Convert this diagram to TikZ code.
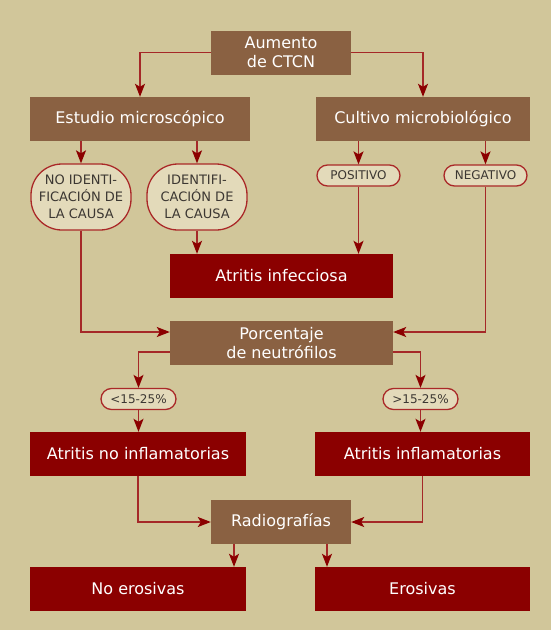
\documentclass[tikz,border=0pt]{standalone}
\usepackage{fontspec}
\setmainfont{DejaVu Sans}
\usetikzlibrary{arrows.meta,positioning,shapes.misc}
\definecolor{bg}{RGB}{209,198,154}
\definecolor{brownbox}{RGB}{138,97,66}
\definecolor{redbox}{RGB}{139,0,0}
\definecolor{oval}{RGB}{227,218,186}
\definecolor{ovalline}{RGB}{170,40,40}
\definecolor{conn}{RGB}{165,40,40}
\definecolor{ovaltext}{RGB}{60,55,50}
\tikzset{
  base/.style={inner sep=0pt, text=white, font=\fontsize{16}{19}\selectfont, align=center},
  brownb/.style={base, fill=brownbox, minimum height=44pt},
  redb/.style={base, fill=redbox, minimum height=44pt},
  ovalb/.style={rectangle, rounded corners=31pt, draw=ovalline, line width=1.3pt, fill=oval, text=ovaltext, inner sep=0pt,
     minimum width=100pt, minimum height=66pt, align=center, font=\fontsize{13}{17}\selectfont},
  pill/.style={rounded rectangle, draw=ovalline, line width=1.3pt, fill=oval, text=ovaltext, inner sep=0pt,
     minimum height=21pt, font=\fontsize{12}{14}\selectfont},
  conn/.style={draw=conn, line width=1.4pt, -{Stealth[length=13pt,width=10pt,inset=3pt,color=redbox]}},
}
\begin{document}
\begin{tikzpicture}[x=1pt,y=-1pt]
\fill[bg] (0,0) rectangle (551,630);
\useasboundingbox (0,0) rectangle (551,630);
\node[brownb, minimum width=140pt] (aum) at (281,52.5) {Aumento\\de CTCN};
\node[brownb, minimum width=220pt] (est) at (140,119) {Estudio microscópico};
\node[brownb, minimum width=214pt] (cul) at (423,119) {Cultivo microbiológico};
\node[ovalb] (noid) at (81,197) {NO IDENTI-\\FICACIÓN DE\\LA CAUSA};
\node[ovalb] (id) at (197,197) {IDENTIFI-\\CACIÓN DE\\LA CAUSA};
\node[pill, minimum width=83pt] (pos) at (358.5,175.5) {POSITIVO};
\node[pill, minimum width=83pt] (neg) at (485.5,175.5) {NEGATIVO};
\node[redb, minimum width=223pt] (inf) at (281.5,276) {Atritis infecciosa};
\node[brownb, minimum width=223pt] (por) at (281.5,343) {Porcentaje\\de neutrófilos};
\node[pill, minimum width=75pt] (lt) at (138.5,399) {<15-25\%};
\node[pill, minimum width=75pt] (gt) at (420.5,399) {>15-25\%};
\node[redb, minimum width=216pt] (noinf) at (138,454) {Atritis no inflamatorias};
\node[redb, minimum width=215pt] (sinf) at (422.5,454) {Atritis inflamatorias};
\node[brownb, minimum width=140pt] (rad) at (281,522) {Radiografías};
\node[redb, minimum width=216pt] (noer) at (138,589) {No erosivas};
\node[redb, minimum width=215pt] (ero) at (422.5,589) {Erosivas};

\draw[conn] (aum.west) -| (est.north);
\draw[conn] (aum.east) -| (cul.north);
\draw[conn] (est.south -| noid.north) -- (noid.north);
\draw[conn] (est.south -| id.north) -- (id.north);
\draw[conn] (cul.south -| pos.north) -- (pos.north);
\draw[conn] (cul.south -| neg.north) -- (neg.north);
\draw[conn] (id.south) -- (inf.north -| id.south);
\draw[conn] (pos.south) -- (inf.north -| pos.south);
\draw[conn] (noid.south) |- ([yshift=11pt]por.west);
\draw[conn] (neg.south) |- ([yshift=11pt]por.east);
\draw[conn] ([yshift=-9pt]por.west) -| (lt.north);
\draw[conn] ([yshift=-9pt]por.east) -| (gt.north);
\draw[conn] (lt.south) -- (noinf.north -| lt.south);
\draw[conn] (gt.south) -- (sinf.north -| gt.south);
\draw[conn] (noinf.south) |- (rad.west);
\draw[conn] (sinf.south) |- (rad.east);
\draw[conn] ([xshift=-47pt]rad.south) -- ([xshift=-47pt]rad.south |- noer.north);
\draw[conn] ([xshift=46pt]rad.south) -- ([xshift=46pt]rad.south |- ero.north);
\end{tikzpicture}
\end{document}
